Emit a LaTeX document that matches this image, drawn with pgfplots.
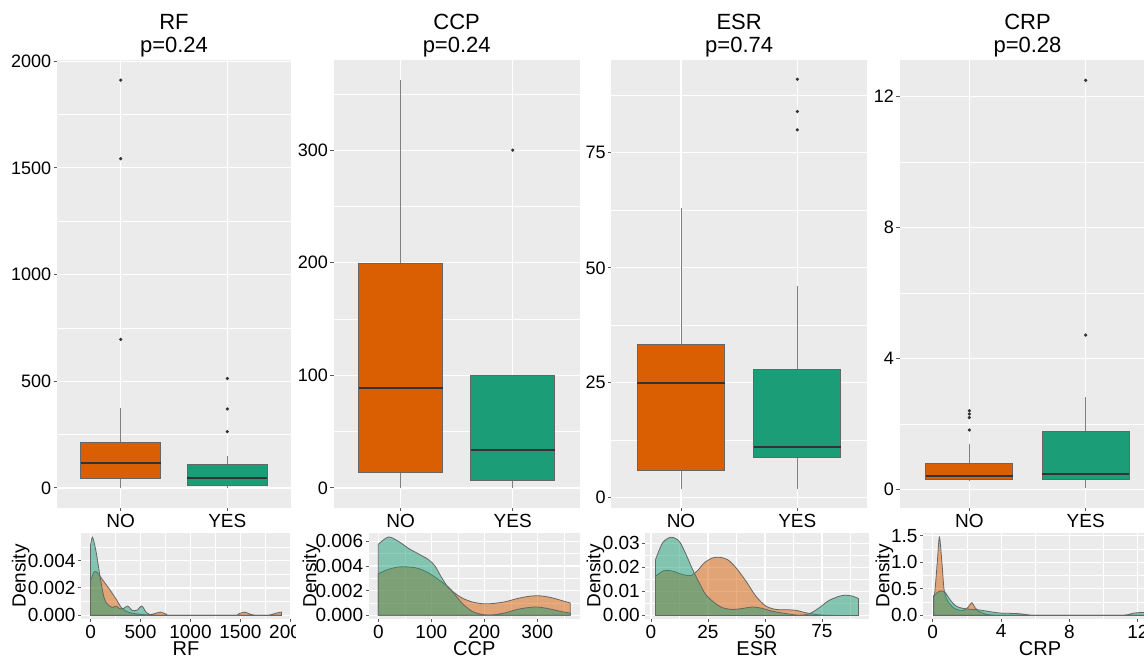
\documentclass[border=0pt]{standalone}
\usepackage{fontspec}
\setmainfont{Liberation Sans}
\usepackage{pgfplots}
\pgfplotsset{compat=1.18}
\usepgfplotslibrary{statistics}
\definecolor{nocol}{HTML}{D95F02}
\definecolor{yescol}{HTML}{1B9E77}
\definecolor{panelbg}{HTML}{EBEBEB}
\pgfplotsset{
  gg/.style={scale only axis, anchor=south west, axis background/.style={fill=panelbg},
    axis line style={draw=none}, tick align=outside, tick pos=left,
    major tick length=1.6pt, minor tick length=0pt, tick style={black!65, line width=0.45pt},
    grid=both, major grid style={white, line width=0.6pt}, minor grid style={white, line width=0.3pt},
    tick label style={font=\fontsize{9}{9}\selectfont, inner sep=1pt}, scaled ticks=false},
  bx/.style={gg, height=224.15pt, xmin=0.4, xmax=2.6, xtick={1,2}, xticklabels={NO,YES},
    xticklabel style={font=\fontsize{9.5}{9.5}\selectfont},
    title style={align=center, font=\fontsize{11}{11.5}\selectfont, at={(0.5,1)}, anchor=south, inner sep=1pt, yshift=-5.5pt},
    boxplot/draw direction=y, boxplot/box extend=0.75, boxplot/whisker extend=0,
    boxplot/every median/.style={draw=black!80, line width=1pt},
    boxplot/every whisker/.style={draw=black!50, line width=0.5pt},
    boxplot/every box/.style={draw=black!60, line width=0.5pt}},
  bno/.style={fill=nocol, draw=black!60, mark=*, mark size=0.6pt, mark options={draw=black!80, fill=black!80}},
  byes/.style={fill=yescol, draw=black!60, mark=*, mark size=0.6pt, mark options={draw=black!80, fill=black!80}},
  dn/.style={gg, height=43.3pt, tick label style={font=\fontsize{9.5}{9.5}\selectfont},
    xlabel style={font=\fontsize{10}{10}\selectfont, at={(axis description cs:0.5,0)}, anchor=center, yshift=-14.6pt},
    ylabel style={font=\fontsize{9.5}{9.5}\selectfont, at={(axis description cs:0,0.5)}, anchor=center}},
  dno/.style={fill=nocol, fill opacity=0.5, draw=black!60, line width=0.4pt, smooth, tension=0.5},
  dyes/.style={fill=yescol, fill opacity=0.5, draw=black!60, line width=0.4pt, smooth, tension=0.5},
}
\begin{document}
\begin{tikzpicture}
\useasboundingbox (0,0) rectangle (572pt,328.5pt);
\clip (0,0) rectangle (572pt,328.5pt);

% ---------------- RF boxplot
\begin{axis}[bx, at={(28.35pt,74.35pt)}, width=117.3pt, ymin=-95.5, ymax=2005.5,
  ytick={0,500,1000,1500,2000}, yticklabels={0,500,1000,1500,2000}, minor ytick={250,750,1250,1750},
  title={RF\\p=0.24}]
\addplot[bno, boxplot prepared={lower whisker=0, lower quartile=42, median=115, upper quartile=215, upper whisker=376, draw position=1}]
  coordinates {(0,696) (0,1543) (0,1911)};
\addplot[byes, boxplot prepared={lower whisker=0, lower quartile=11, median=45, upper quartile=111, upper whisker=151, draw position=2}]
  coordinates {(0,264) (0,370) (0,513)};
\end{axis}

% ---------------- CCP boxplot
\begin{axis}[bx, at={(166.75pt,74.35pt)}, width=123.2pt, ymin=-18.1, ymax=380.1,
  ytick={0,100,200,300}, yticklabels={0,100,200,300}, minor ytick={50,150,250,350},
  title={CCP\\p=0.24}]
\addplot[bno, boxplot prepared={lower whisker=0, lower quartile=13.3, median=88.5, upper quartile=199, upper whisker=362, draw position=1}]
  coordinates {};
\addplot[byes, boxplot prepared={lower whisker=0, lower quartile=6.5, median=33.7, upper quartile=100, upper whisker=100, draw position=2}]
  coordinates {(0,300)};
\end{axis}

% ---------------- ESR boxplot
\begin{axis}[bx, at={(305.6pt,74.35pt)}, width=127.95pt, ymin=-2.3, ymax=95.2,
  ytick={0,25,50,75}, yticklabels={0,25,50,75}, minor ytick={12.5,37.5,62.5,87.5},
  title={ESR\\p=0.74}]
\addplot[bno, boxplot prepared={lower whisker=2, lower quartile=6, median=25, upper quartile=33.4, upper whisker=63, draw position=1}]
  coordinates {};
\addplot[byes, boxplot prepared={lower whisker=2, lower quartile=8.8, median=11, upper quartile=27.9, upper whisker=46, draw position=2}]
  coordinates {(0,80) (0,84) (0,91)};
\end{axis}

% ---------------- CRP boxplot
\begin{axis}[bx, at={(449.75pt,74.35pt)}, width=128pt, ymin=-0.57, ymax=13.12,
  ytick={0,4,8,12}, yticklabels={0,4,8,12}, minor ytick={2,6,10},
  title={CRP\\p=0.28}]
\addplot[bno, boxplot prepared={lower whisker=0.25, lower quartile=0.3, median=0.41, upper quartile=0.81, upper whisker=1.4, draw position=1}]
  coordinates {(0,1.82) (0,2.2) (0,2.31) (0,2.41)};
\addplot[byes, boxplot prepared={lower whisker=0.05, lower quartile=0.3, median=0.49, upper quartile=1.78, upper whisker=2.82, draw position=2}]
  coordinates {(0,4.72) (0,12.5)};
\end{axis}

% ---------------- RF density
\begin{scope}
\clip (0,0) rectangle (147.5pt,100pt);
\begin{axis}[dn, at={(40.5pt,18.85pt)}, width=105pt, xmin=-95.5, xmax=2006.5, ymin=-0.000287, ymax=0.00603,
  xtick={0,500,1000,1500,2000}, xticklabels={0,500,1000,1500,2000}, minor xtick={250,750,1250,1750},
  ytick={0,0.002,0.004}, yticklabels={0.000,0.002,0.004}, minor ytick={0.001,0.003,0.005},
  xlabel={RF}, ylabel={Density}, ylabel style={yshift=30.1pt}]
\addplot[dno] coordinates {(0,0.0025)(30,0.0031)(55,0.0032)(90,0.0029)(130,0.0025)(190,0.0019)(255,0.0012)(305,0.0006)(356,0.0003)(420,0.00015)(500,0.00008)(570,0.00004)(630,0.0001)(700,0.00024)(760,0.00008)(820,0)(1420,0)(1480,0.0001)(1540,0.00024)(1600,0.00008)(1660,0)(1780,0)(1850,0.00015)(1911,0.00024)} \closedcycle;
\addplot[dyes] coordinates {(0,0.0051)(20,0.0057)(54,0.0047)(87,0.0032)(110,0.0022)(135,0.0013)(160,0.0009)(190,0.00068)(220,0.00058)(255,0.00068)(290,0.0005)(330,0.0005)(372,0.00068)(420,0.00035)(470,0.0004)(513,0.00068)(560,0.0002)(610,0.00003)(650,0)(1911,0)} \closedcycle;
\end{axis}
\end{scope}

% ---------------- CCP density
\begin{axis}[dn, at={(184.35pt,18.85pt)}, width=105.55pt, xmin=-18.1, xmax=380.1, ymin=-0.00032, ymax=0.0067,
  xtick={0,100,200,300}, xticklabels={0,100,200,300}, minor xtick={50,150,250,350},
  ytick={0,0.002,0.004,0.006}, yticklabels={0.000,0.002,0.004,0.006}, minor ytick={0.001,0.003,0.005},
  xlabel={CCP}, ylabel={Density}, ylabel style={yshift=28.6pt}]
\addplot[dno] coordinates {(0,0.00338)(19,0.00373)(38,0.00392)(57,0.00392)(75,0.00381)(94,0.00346)(113,0.00292)(132,0.0023)(141.5,0.0019)(157,0.00143)(176,0.0011)(195,0.00095)(214,0.00095)(239,0.0011)(264,0.00138)(289,0.00157)(308,0.00157)(327,0.00143)(346,0.0012)(362,0.001)} \closedcycle;
\addplot[dyes] coordinates {(0,0.00576)(19,0.00635)(38,0.006)(57,0.00543)(75,0.005)(94,0.00454)(107,0.004)(119.5,0.00305)(132,0.00224)(141.5,0.00184)(157,0.00103)(176,0.00035)(195,0.00008)(214,0.00003)(239,0.0002)(264,0.0005)(296,0.00068)(321,0.00054)(346,0.0003)(362,0.00019)} \closedcycle;
\end{axis}

% ---------------- ESR density
\begin{axis}[dn, at={(322.7pt,18.85pt)}, width=111.6pt, xmin=-2.45, xmax=95.45, ymin=-0.0016, ymax=0.0344,
  xtick={0,25,50,75}, xticklabels={0,25,50,75}, minor xtick={12.5,37.5,62.5,87.5},
  ytick={0,0.01,0.02,0.03}, yticklabels={0.00,0.01,0.02,0.03}, minor ytick={0.005,0.015,0.025},
  xlabel={ESR}, ylabel={Density}, ylabel style={yshift=25pt}]
\addplot[dno] coordinates {(2,0.0163)(5.8,0.0187)(9.5,0.0184)(13.9,0.017)(17.5,0.0166)(20.5,0.0187)(23.4,0.0219)(27,0.0239)(30,0.0242)(33.6,0.0232)(37.3,0.0198)(41.7,0.0142)(46,0.008)(50.4,0.0039)(54.8,0.0025)(59,0.0024)(63.6,0.0021)(68,0.0011)(72.4,0.0004)(76.8,0.0001)(82,0)(91,0)} \closedcycle;
\addplot[dyes] coordinates {(2,0.0232)(5.1,0.0302)(8.8,0.0325)(12.4,0.0308)(15.4,0.0253)(18.3,0.019)(21.2,0.0135)(24,0.0087)(27.8,0.0053)(31.4,0.0032)(35.8,0.0025)(40.2,0.0029)(44.6,0.0035)(49,0.0029)(53,0.0018)(59,0.0008)(65,0.0001)(69.4,0.0007)(73.8,0.0032)(78,0.0062)(82.6,0.008)(85.5,0.0084)(88.5,0.008)(91,0.007)} \closedcycle;
\end{axis}

% ---------------- CRP density
\begin{axis}[dn, at={(461.5pt,18.85pt)}, width=117pt, xmin=-0.57, xmax=13.12, ymin=-0.074, ymax=1.555,
  xtick={0,4,8,12}, xticklabels={0,4,8,12}, minor xtick={2,6,10},
  ytick={0,0.5,1,1.5}, yticklabels={0.0,0.5,1.0,1.5}, minor ytick={0.25,0.75,1.25},
  xlabel={CRP}, ylabel={Density}, ylabel style={yshift=19.3pt}]
\addplot[dno] coordinates {(0.05,0.35)(0.12,0.43)(0.27,1.02)(0.39,1.47)(0.53,1.02)(0.66,0.49)(0.82,0.3)(1.1,0.175)(1.4,0.11)(1.8,0.094)(2.08,0.157)(2.28,0.24)(2.47,0.144)(2.67,0.08)(3.15,0.02)(3.7,0.003)(4.3,0)(12.5,0)} \closedcycle;
\addplot[dyes] coordinates {(0.05,0.37)(0.12,0.39)(0.43,0.46)(0.72,0.43)(1.0,0.3)(1.3,0.19)(1.6,0.144)(2.0,0.12)(2.76,0.1)(3.35,0.069)(3.93,0.044)(4.5,0.038)(5.1,0.03)(5.7,0.006)(6.3,0)(10.9,0)(11.7,0.04)(12.3,0.056)(12.5,0.05)} \closedcycle;
\end{axis}
\end{tikzpicture}
\end{document}
